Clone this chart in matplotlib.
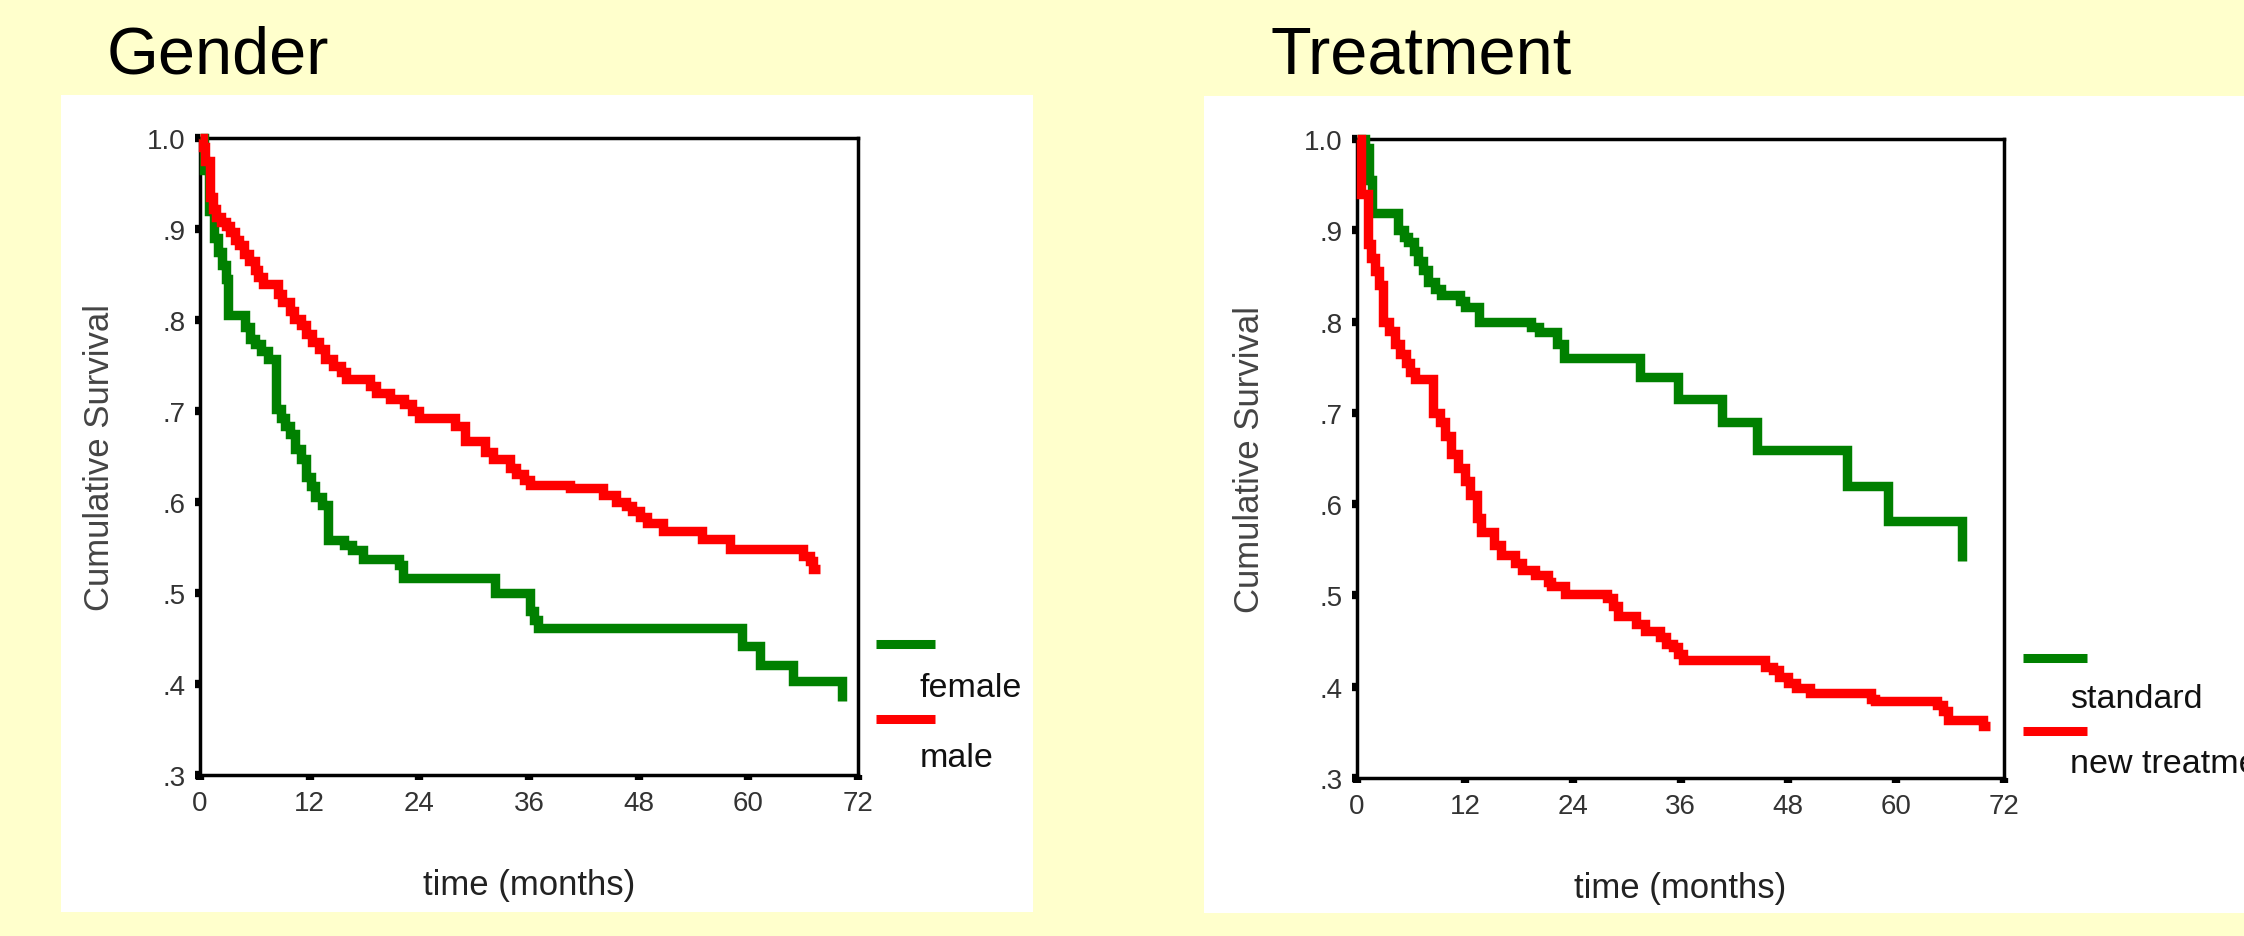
import matplotlib
matplotlib.use("Agg")
import matplotlib.pyplot as plt
from matplotlib.patches import Rectangle
from matplotlib.lines import Line2D

plt.rcParams['font.family'] = ['Liberation Sans', 'DejaVu Sans']

# Kaplan-Meier steps (time in months, cumulative survival)
female_t = [0, 0.4, 1.0, 1.5, 2.0, 2.4, 2.8, 3.1, 4.9, 5.5, 6.0, 6.7, 7.4, 8.3,
            8.9, 9.3, 9.9, 10.4, 11.0, 11.6, 12.1, 12.6, 13.3, 14.0, 15.8, 16.6,
            17.8, 21.8, 22.2, 32.3, 36.1, 36.6, 37.0, 59.3, 61.3, 64.9, 70.2]
female_s = [1.0, 0.965, 0.92, 0.89, 0.875, 0.86, 0.845, 0.805, 0.792, 0.779, 0.774,
            0.766, 0.757, 0.702, 0.692, 0.683, 0.675, 0.658, 0.647, 0.628, 0.618,
            0.605, 0.597, 0.558, 0.553, 0.547, 0.537, 0.531, 0.516, 0.50, 0.48,
            0.47, 0.461, 0.442, 0.421, 0.403, 0.381]

male_t = [0, 0.3, 0.6, 1.1, 1.4, 1.8, 2.3, 2.8, 3.3, 3.8, 4.3, 4.8, 5.4, 6.0, 6.4,
          6.9, 8.5, 9.0, 9.8, 10.3, 11.0, 11.6, 12.3, 13.0, 13.7, 14.6, 15.4, 16.0,
          18.6, 19.3, 20.8, 22.3, 23.2, 24.0, 27.9, 29.0, 31.2, 32.1, 33.9, 34.6,
          35.5, 36.1, 40.5, 44.1, 45.5, 46.6, 47.3, 48.1, 48.9, 50.7, 54.9, 58.0,
          66.0, 66.8, 67.1, 67.8]
male_s = [1.0, 0.99, 0.975, 0.935, 0.922, 0.913, 0.908, 0.903, 0.897, 0.888, 0.882,
          0.872, 0.865, 0.855, 0.847, 0.84, 0.829, 0.82, 0.81, 0.801, 0.795, 0.785,
          0.776, 0.768, 0.757, 0.749, 0.743, 0.735, 0.728, 0.72, 0.713, 0.708, 0.70,
          0.692, 0.683, 0.667, 0.655, 0.647, 0.637, 0.631, 0.624, 0.619, 0.615,
          0.608, 0.60, 0.596, 0.59, 0.584, 0.577, 0.568, 0.559, 0.548, 0.541, 0.535,
          0.526, 0.526]

std_t = [0, 0.9, 1.3, 1.7, 4.6, 5.2, 5.7, 6.3, 6.8, 7.4, 7.9, 8.7, 9.4, 11.5, 12.0,
         13.6, 19.4, 20.2, 22.3, 23.0, 31.5, 35.7, 40.6, 44.5, 54.5, 59.1, 67.3]
std_s = [1.0, 0.99, 0.955, 0.919, 0.90, 0.893, 0.887, 0.877, 0.866, 0.857, 0.843,
         0.836, 0.829, 0.822, 0.816, 0.80, 0.794, 0.789, 0.775, 0.76, 0.739, 0.715,
         0.69, 0.659, 0.62, 0.582, 0.538]

new_t = [0, 0.5, 1.2, 1.6, 2.0, 2.4, 2.9, 3.6, 4.2, 4.8, 5.4, 5.9, 6.4, 8.5, 9.2,
         9.8, 10.5, 11.2, 12.0, 12.6, 13.3, 13.8, 15.2, 16.0, 17.6, 18.4, 19.8, 21.2,
         21.6, 23.1, 27.8, 28.5, 29.1, 31.1, 32.0, 33.7, 34.4, 35.2, 35.7, 36.3, 45.4,
         46.3, 47.0, 48.0, 48.9, 50.4, 57.2, 57.7, 64.5, 65.2, 65.8, 69.7, 70.4]
new_s = [1.0, 0.94, 0.885, 0.87, 0.855, 0.84, 0.80, 0.79, 0.775, 0.765, 0.755, 0.745,
         0.737, 0.70, 0.69, 0.675, 0.655, 0.64, 0.625, 0.61, 0.585, 0.57, 0.555,
         0.544, 0.535, 0.528, 0.522, 0.515, 0.51, 0.502, 0.497, 0.488, 0.477, 0.469,
         0.461, 0.454, 0.447, 0.443, 0.436, 0.429, 0.422, 0.418, 0.411, 0.404, 0.399,
         0.393, 0.387, 0.384, 0.380, 0.373, 0.363, 0.357, 0.357]

x_ticks = [0, 12, 24, 36, 48, 60, 72]
y_ticks = [0.3, 0.4, 0.5, 0.6, 0.7, 0.8, 0.9, 1.0]
y_labels = ['.3', '.4', '.5', '.6', '.7', '.8', '.9', '1.0']

GREEN = '#008000'
RED = '#FF0000'
W, H = 2244, 937

fig = plt.figure(figsize=(W / 100, H / 100), dpi=100, facecolor='#FFFFCC')


def px_rect(x0, y0, x1, y1):
    # pixel box (top-left origin) -> figure fraction
    return [x0 / W, 1 - y1 / H, (x1 - x0) / W, (y1 - y0) / H]


# white panels
for x0, y0, x1, y1 in [(61, 96, 1033, 913), (1204, 97, 2244, 914)]:
    b = px_rect(x0, y0, x1, y1)
    fig.add_artist(Rectangle((b[0], b[1]), b[2], b[3], transform=fig.transFigure,
                             facecolor='white', edgecolor='none', zorder=0))


def km_panel(box, t1, s1, t2, s2, title, title_x, ypad):
    ax = fig.add_axes(px_rect(*box))
    ax.plot(t1, s1, drawstyle='steps-post', color=GREEN, lw=6.8,
            solid_joinstyle='miter', solid_capstyle='butt', clip_on=False, zorder=3)
    ax.plot(t2, s2, drawstyle='steps-post', color=RED, lw=6.8,
            solid_joinstyle='miter', solid_capstyle='butt', clip_on=False, zorder=3)
    ax.set_xlim(0, 72)
    ax.set_ylim(0.3, 1.0)
    ax.set_xticks(x_ticks)
    ax.set_yticks(y_ticks)
    ax.set_yticklabels(y_labels)
    for sp in ax.spines.values():
        sp.set_linewidth(2.5)
    ax.tick_params(direction='out', length=3.5, width=6, colors='black',
                   labelsize=20, labelcolor='#333333', pad=7)
    ax.set_xlabel('time (months)', fontsize=25, color='#222222', labelpad=38)
    ax.set_ylabel('Cumulative Survival', fontsize=25, color='#444444', labelpad=ypad)
    fig.text(title_x / W, 1 - 73 / H, title, fontsize=48, ha='left', va='baseline')
    return ax


km_panel((200, 139, 858, 776), female_t, female_s, male_t, male_s, 'Gender', 107, 22)
km_panel((1357, 140, 2004, 779), std_t, std_s, new_t, new_s, 'Treatment', 1271, 27)


def legend_entry(x0, x1, y, color, label, tx, ty):
    fig.add_artist(Line2D([x0 / W, x1 / W], [1 - y / H, 1 - y / H], color=color,
                          lw=6.5, solid_capstyle='butt', transform=fig.transFigure))
    fig.text(tx / W, 1 - ty / H, label, fontsize=24.5, ha='left', va='baseline',
             color='#111111')


legend_entry(876, 935, 645, GREEN, 'female', 920, 697)
legend_entry(876, 935, 720, RED, 'male', 920, 767)
legend_entry(2023, 2087, 659, GREEN, 'standard', 2070, 708)
# the reference crops this label at the right edge of the picture
legend_entry(2023, 2087, 732, RED, 'new treatment', 2070, 773)

fig.savefig('out.png', dpi=100, facecolor=fig.get_facecolor())
